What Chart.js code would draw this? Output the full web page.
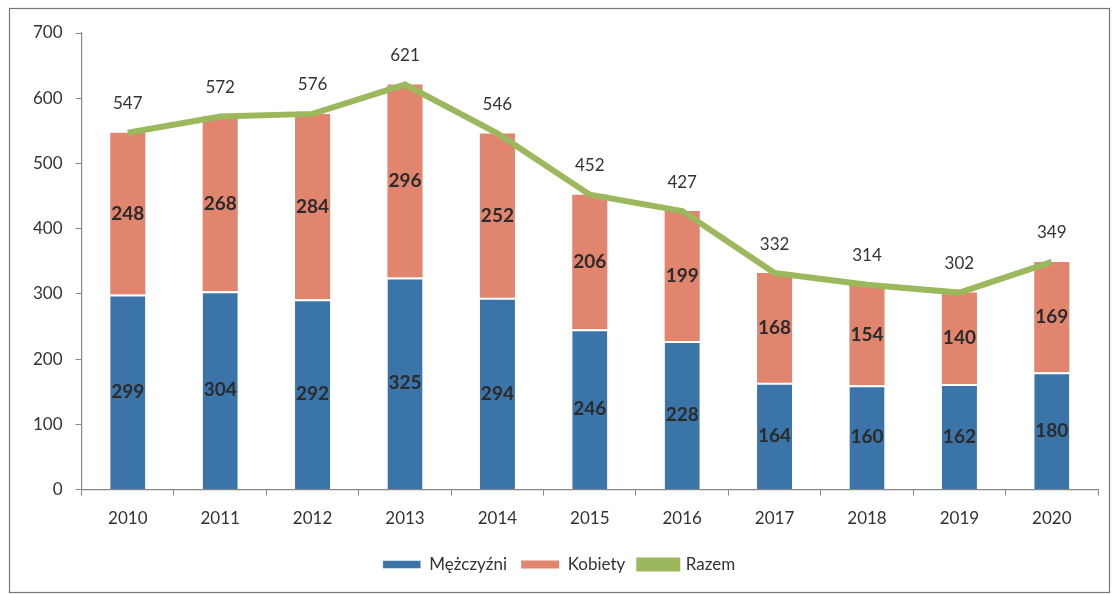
<!DOCTYPE html>
<html>
<head>
<meta charset="utf-8">
<script src="https://cdn.jsdelivr.net/npm/chart.js@4/dist/chart.umd.min.js"></script>
<style>
  html,body{margin:0;padding:0;background:#fff;}
  #wrap{position:relative;width:1115px;height:594px;}
</style>
</head>
<body>
<div id="wrap"><canvas id="c" width="1115" height="594"></canvas></div>
<script>
// dane
const years   = ["2010","2011","2012","2013","2014","2015","2016","2017","2018","2019","2020"];
const men     = [299, 304, 292, 325, 294, 246, 228, 164, 160, 162, 180];
const women   = [248, 268, 284, 296, 252, 206, 199, 168, 154, 140, 169];
const total   = [547, 572, 576, 621, 546, 452, 427, 332, 314, 302, 349];
const yTicks  = [0, 100, 200, 300, 400, 500, 600, 700];

const FONT = "Lato, 'Open Sans', sans-serif";
const TXT = "#333";

// ramka wokół wykresu
const frame = {
  id: "frame",
  beforeDraw(chart){
    const c = chart.ctx;
    c.save();
    c.fillStyle = "#fff";
    c.fillRect(0,0,chart.width,chart.height);
    c.strokeStyle = "#777";
    c.lineWidth = 1.2;
    c.strokeRect(9.5, 8.5, chart.width - 15, chart.height - 10);
    c.restore();
  }
};

// etykiety wartości (bez pluginu datalabels)
const valueLabels = {
  id: "valueLabels",
  afterDatasetsDraw(chart){
    const c = chart.ctx;
    c.save();
    c.textAlign = "center";
    c.textBaseline = "middle";
    chart.data.datasets.forEach((ds, i)=>{
      const meta = chart.getDatasetMeta(i);
      meta.data.forEach((el, j)=>{
        const v = ds.data[j];
        if(ds.type === "line"){
          c.font = "17px " + FONT;
          c.fillStyle = TXT;
          c.fillText(String(v), el.x, el.y - 29);
        } else {
          c.font = "bold 19px " + FONT;
          c.fillStyle = "#2b2b2b";
          c.fillText(String(v), el.x, (el.y + el.base)/2);
        }
      });
    });
    c.restore();
  }
};

new Chart(document.getElementById("c"), {
  data: {
    labels: years,
    datasets: [
      { type:"line", label:"Razem", data: total, borderColor:"#9bb95c", backgroundColor:"#9bb95c",
        borderWidth:6, pointRadius:0, tension:0, order:0, stack:"razem" },
      { type:"bar", label:"Mężczyźni", data: men, backgroundColor:"#3a74a8",
        borderColor:"#fff", borderWidth:{top:2}, borderSkipped:false, barPercentage:0.4, categoryPercentage:0.95, order:1 },
      { type:"bar", label:"Kobiety", data: women, backgroundColor:"#e2856f",
        borderColor:"#fff", borderWidth:0, barPercentage:0.4, categoryPercentage:0.95, order:1 }
    ]
  },
  options: {
    responsive:false,
    animation:false,
    layout:{ padding:{ left:20, right:17, top:33, bottom:11 } },
    scales: {
      x: {
        stacked:true,
        grid:{ drawOnChartArea:false, drawTicks:true, tickLength:6, color:"#888" },
        border:{ color:"#888", width:1.2 },
        ticks:{ color:TXT, font:{ family:FONT, size:17 }, padding:13 }
      },
      y: {
        stacked:true,
        min:0, max:700,
        afterBuildTicks(axis){ axis.ticks = yTicks.map(v=>({value:v})); },
        grid:{ drawOnChartArea:false, drawTicks:true, tickLength:6, color:"#888" },
        border:{ color:"#888", width:1.2 },
        ticks:{ color:TXT, font:{ family:FONT, size:17 }, padding:13 }
      }
    },
    plugins: {
      legend: {
        position:"bottom",
        labels:{
          color:TXT, font:{ family:FONT, size:17 }, boxWidth:38, boxHeight:8, padding:14,
          sort:(a,b)=>{ const o={"Mężczyźni":0,"Kobiety":1,"Razem":2}; return o[a.text]-o[b.text]; }
        }
      },
      tooltip:{ enabled:false }
    }
  },
  plugins:[frame, valueLabels]
});
</script>
</body>
</html>
